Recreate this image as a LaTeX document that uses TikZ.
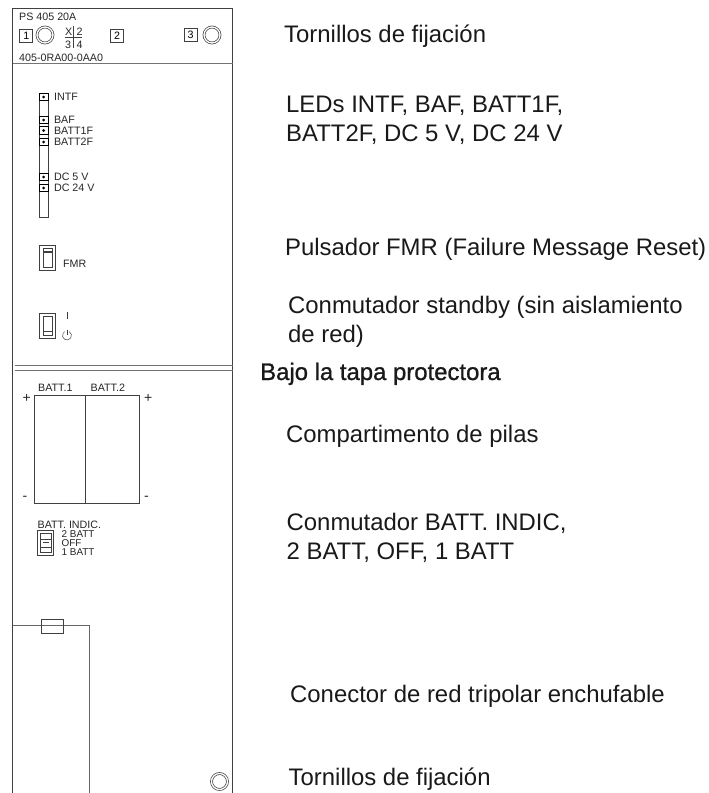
\documentclass[tikz,border=0pt]{standalone}
\usepackage{fontspec}
\setmainfont{Liberation Sans}
\newfontfamily\fakebold[FakeBold=1]{Liberation Sans}
\usetikzlibrary{positioning}
\definecolor{linegray}{gray}{0.25}
\tikzset{
  part/.style={draw=linegray,line width=0.7pt},
  tiny label/.style={font=\fontsize{10.7}{11}\selectfont,text=black!85,inner sep=0pt,anchor=west},
  pos label/.style={tiny label,font=\fontsize{9.9}{10}\selectfont},
  sign label/.style={tiny label,font=\fontsize{14}{14}\selectfont},
  call/.style={font=\fontsize{23.9}{25}\selectfont,text=black!90,inner sep=0pt,anchor=base west},
  numbox/.style={part,minimum width=13pt,minimum height=13pt,inner sep=0pt,font=\fontsize{10.7}{11}\selectfont},
  screw/.style={part,circle,double=white,double distance=1.3pt,minimum size=16pt,inner sep=0pt},
  led/.style={draw=black,line width=0.8pt,minimum width=8.5pt,minimum height=7.5pt,inner sep=0pt,fill=white}
}
\begin{document}
\begin{tikzpicture}[x=1pt,y=-1pt]
  \useasboundingbox (0,0) rectangle (709,793);
  % housing
  \draw[part] (12.7,793) -- (12.7,8) -- (232.5,8) -- (232.5,793);
  \draw[part,draw=black!55,line width=1pt] (12.7,63) -- (232.5,63);
  \draw[part,draw=black!55,line width=1pt] (14.5,365) -- (232.5,365);
  \draw[part,draw=black!55,line width=1pt] (14.5,370) -- (232.5,370);
  % header
  \node[tiny label] (title) at (19,17) {PS 405 20A};
  \node[numbox] (box1) at (26.3,35.5) {1};
  \node[screw] (screw1) at (45,35) {};
  \node[numbox] (box2) at (117,35.5) {2};
  \node[numbox] (box3) at (190.5,35) {3};
  \node[screw] (screw3) at (212,35) {};
  \node[tiny label] (xlabel) at (65,31.5) {X};
  \node[tiny label] (two) at (76.5,31.5) {2};
  \node[tiny label] (three) at (65,44.5) {3};
  \node[tiny label] (four) at (76.5,44.5) {4};
  \draw[part] (73,26) -- (73,48);
  \draw[part] (64.5,37.5) -- (82,37.5);
  \node[tiny label] (order) at (19,58) {405-0RA00-0AA0};
  % leds
  \draw[part] (39.5,93) rectangle (48,217);
  \foreach \name/\ypos/\txt in {intf/97/INTF,baf/120/BAF,battone/130.5/BATT1F,batttwo/142/BATT2F,dcfive/177/DC 5 V,dctwenty/188/DC 24 V} {
    \node[led] (\name) at (43.7,\ypos) {};
    \fill (\name) circle (1.5pt);
    \node[tiny label,right=5.5pt of \name] (\name text) {\txt};
  }
  % FMR button
  \draw[part] (39.5,245.5) rectangle (55,270.5);
  \draw[part] (43,248.5) rectangle (52,267.5);
  \draw[part,line width=1.2pt] (43,252) -- (52,252);
  \node[tiny label] (fmr) at (63,263.5) {FMR};
  % standby switch
  \draw[part] (39.5,313) rectangle (55.5,338.5);
  \draw[part] (43,316) rectangle (52,335);
  \draw[part,line width=1.2pt] (43,331.5) -- (52,331.5);
  \draw[part,line width=0.5pt] (67,312) -- (67,319);
  \draw[part,line width=0.5pt] (67,329.5) -- (67,335);
  \draw[part,line width=0.5pt] (69.25,331.6) arc[start angle=60,end angle=-240,radius=4.5pt];
  % batteries
  \draw[part] (34.5,395.5) rectangle (139,503);
  \draw[part] (85.5,395.5) -- (85.5,503);
  \node[tiny label] (batt1) at (38,387.5) {BATT.1};
  \node[tiny label] (batt2) at (90.5,387.5) {BATT.2};
  \node[sign label] (plus1) at (22.5,398) {+};
  \node[sign label] (plus2) at (144,398) {+};
  \node[sign label] (minus1) at (22.5,498.5) {-};
  \node[sign label] (minus2) at (144,498.5) {-};
  % batt. indic switch
  \node[tiny label] (indic) at (37.5,524.5) {BATT. INDIC.};
  \draw[part] (37.5,530.5) rectangle (53.5,555);
  \draw[part] (40.5,533.5) rectangle (51,552);
  \draw[part] (40.5,539) -- (51,539);
  \draw[part] (40.5,547) -- (51,547);
  \draw[part] (43,542.5) -- (49,542.5);
  \node[pos label] (twobatt) at (61.5,533.8) {2 BATT};
  \node[pos label] (off) at (61.5,543) {OFF};
  \node[pos label] (onebatt) at (61.5,552.2) {1 BATT};
  % connector
  \draw[part,draw=black!60] (12.7,625.5) -- (89.5,625.5) -- (89.5,793);
  \draw[part] (41.5,619.5) rectangle (63,633);
  \node[screw] (screw4) at (219.5,781.5) {};
  % callouts
  \node[call] (fix1) at (284,42) {Tornillos de fijación};
  \node[call] (leds1) at (286,112) {LEDs INTF, BAF, BATT1F,};
  \node[call] (leds2) at (286,141) {BATT2F, DC 5 V, DC 24 V};
  \node[call] (pulsador) at (285,255) {Pulsador FMR (Failure Message Reset)};
  \node[call] (standby1) at (288,313) {Conmutador standby (sin aislamiento};
  \node[call] (standby2) at (288,342) {de red)};
  \node[call,font=\fontsize{23.9}{25}\fakebold] (bajo) at (260,380) {Bajo la tapa protectora};
  \node[call] (pilas) at (286,442) {Compartimento de pilas};
  \node[call] (indic1) at (286.5,530) {Conmutador BATT. INDIC,};
  \node[call] (indic2) at (286.5,559) {2 BATT, OFF, 1 BATT};
  \node[call] (conector) at (290,702) {Conector de red tripolar enchufable};
  \node[call] (fix2) at (288.5,785) {Tornillos de fijación};
\end{tikzpicture}
\end{document}
